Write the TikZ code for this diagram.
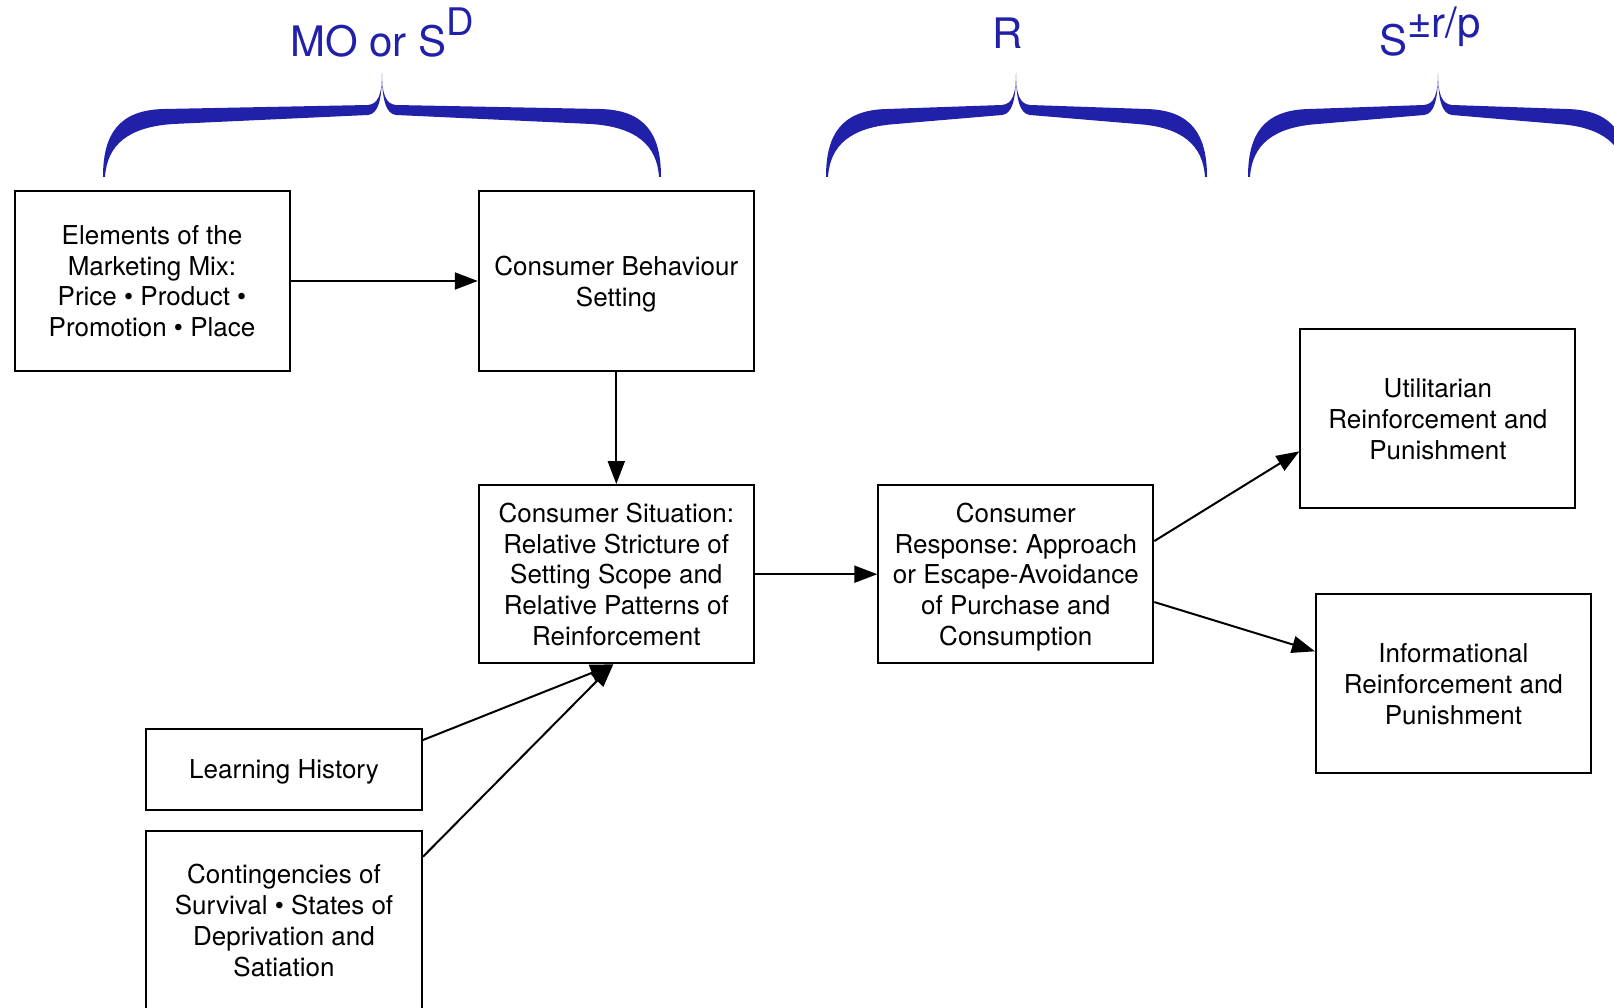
\documentclass[tikz,border=0pt]{standalone}
\usepackage{fontspec}
\setmainfont{TeX Gyre Heros}
\usetikzlibrary{arrows.meta,calc}
\frenchspacing

\definecolor{braceblue}{RGB}{33,32,168}

\tikzset{
  box/.style={draw=black, line width=2pt, minimum width=275pt, minimum height=179pt,
    inner sep=0pt, align=center, text depth=0pt, font=\fontsize{26}{30.8}\selectfont},
  flow/.style={line width=2pt, -{Triangle[length=23pt,width=17pt]}},
  heading/.style={text=braceblue, inner sep=0pt, font=\fontsize{42}{42}\selectfont},
}

% filled curly brace: #1 left tip x, #2 cusp x, #3 right tip x
\newcommand\curlybrace[3]{%
  \fill[braceblue]
    (#1,177) .. controls (#1,135) and (#1+15,110) .. (#1+61,109)
    -- (#2-14,105) .. controls (#2-4,104) and (#2,95) .. (#2,73)
    .. controls (#2,95) and (#2+4,104) .. (#2+14,105)
    -- (#3-61,109) .. controls (#3-15,110) and (#3,135) .. (#3,177)
    -- (#3-2,177) .. controls (#3-4,145) and (#3-25,127) .. (#3-70,124)
    -- (#2+14,115) .. controls (#2+4,114) and (#2,100) .. (#2,73)
    .. controls (#2,100) and (#2-4,114) .. (#2-14,115)
    -- (#1+70,124) .. controls (#1+25,127) and (#1+4,145) .. (#1+2,177)
    -- cycle;}

\begin{document}
\begin{tikzpicture}[x=1pt,y=-1pt]
\useasboundingbox (0,0) rectangle (1614,1008);
\clip (0,0) rectangle (1614,1008);

% braces and their headings
\curlybrace{103}{382}{661}
\curlybrace{826}{1016}{1207}
\curlybrace{1248}{1438}{1628}

\node[heading, anchor=base] (mo) at (382,57) {MO or S\raisebox{21pt}{\fontsize{38}{38}\selectfont D}};
\node[heading, anchor=base] (r) at (1008,48.5) {R};
\node[heading, anchor=base west] (s) at (1379,56) {S\raisebox{18pt}{\fontsize{42}{42}\selectfont ±r/p}};

% boxes
\node[box] (mix) at (152,281) {Elements of the\\Marketing Mix:\\Price \textbullet{} Product \textbullet\\Promotion \textbullet{} Place};
\node[box] (cbs) at (616.3,281) {Consumer Behaviour\\Setting};
\node[box, minimum height=178.3pt] (sit) at (616.3,574.2) {Consumer Situation:\\Relative Stricture of\\Setting Scope and\\Relative Patterns of\\Reinforcement};
\node[box, minimum height=178.3pt] (resp) at (1015.8,574.2) {Consumer\\Response: Approach\\or Escape-Avoidance\\of Purchase and\\Consumption};
\node[box] (util) at (1437.9,418.8) {Utilitarian\\Reinforcement and\\Punishment};
\node[box] (info) at (1453.4,683.8) {Informational\\Reinforcement and\\Punishment};
\node[box, minimum width=276pt, minimum height=81pt] (hist) at (284,769.5) {Learning History};
\node[box, minimum width=276pt] (surv) at (284,920.2) {Contingencies of\\Survival \textbullet{} States of\\Deprivation and\\Satiation};

% connectors
\draw[flow] (mix) -- (cbs);
\draw[flow] (cbs) -- (sit);
\draw[flow] (sit) -- (resp);
\draw[flow] ($(hist.north east)+(0,12)$) -- ($(sit.south)+(-3,0)$);
\draw[flow] ($(surv.north east)+(0,27)$) -- ($(sit.south)+(-3,0)$);
\draw[flow] ($(resp.north east)+(0,57)$) -- ($(util.south west)+(0,-58)$);
\draw[flow] ($(resp.north east)+(0,118)$) -- ($(info.north west)+(0,58)$);
\end{tikzpicture}
\end{document}
